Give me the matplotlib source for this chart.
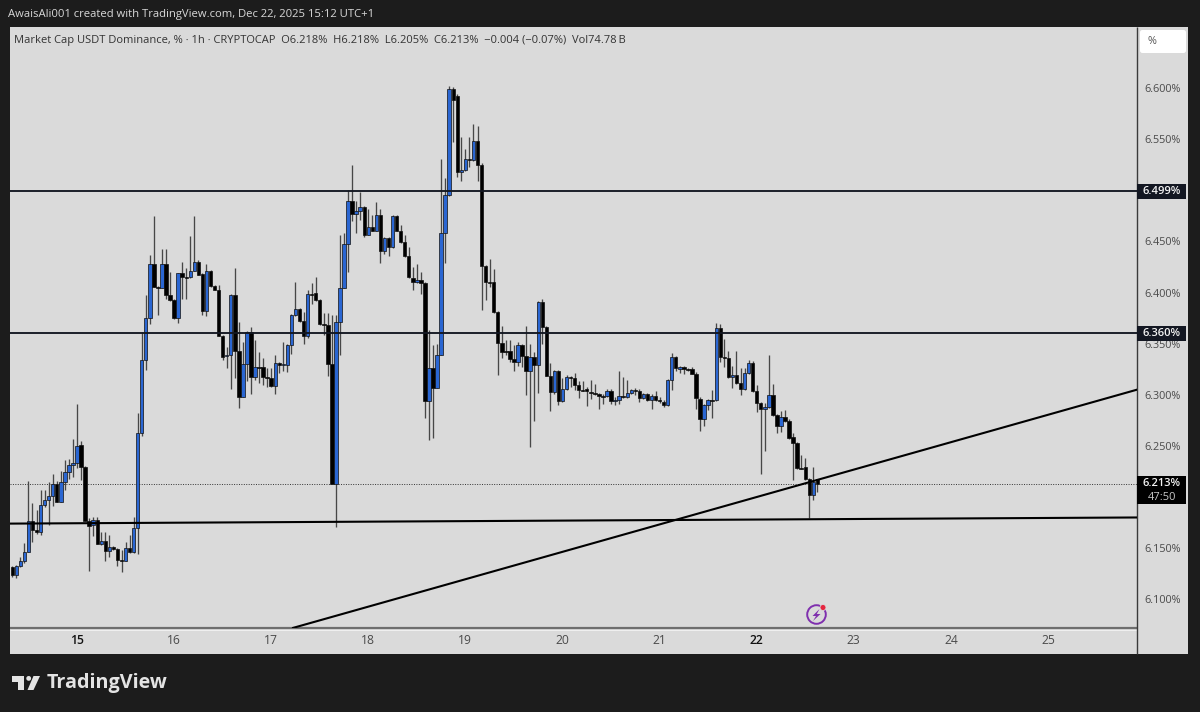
import numpy as np
import matplotlib
matplotlib.use("Agg")
import matplotlib.pyplot as plt
from matplotlib.patches import Rectangle, Polygon, Circle, FancyBboxPatch

opens = [
6.132,6.124,6.133,6.137,6.146,6.177,6.168,6.166,6.192,6.197,
6.201,6.213,6.195,6.215,6.224,6.231,6.233,6.251,6.229,6.177,
6.173,6.178,6.154,6.157,6.147,6.151,6.149,6.138,6.137,6.150,
6.146,6.170,6.263,6.334,6.375,6.428,6.405,6.404,6.428,6.398,
6.393,6.375,6.419,6.415,6.415,6.421,6.430,6.418,6.382,6.421,
6.406,6.402,6.357,6.338,6.339,6.398,6.343,6.298,6.330,6.361,
6.317,6.327,6.327,6.317,6.316,6.309,6.331,6.329,6.329,6.349,
6.378,6.384,6.372,6.357,6.399,6.400,6.393,6.369,6.368,6.330,
6.213,6.371,6.404,6.447,6.490,6.477,6.480,6.484,6.456,6.464,
6.460,6.476,6.441,6.453,6.445,6.475,6.460,6.449,6.436,6.414,
6.410,6.412,6.409,6.294,6.326,6.307,6.339,6.458,6.495,6.599,
6.592,6.518,6.520,6.531,6.530,6.548,6.525,6.426,6.410,6.410,
6.381,6.351,6.343,6.343,6.335,6.332,6.349,6.338,6.323,6.337,
6.329,6.391,6.366,6.318,6.303,6.323,6.294,6.306,6.317,6.316,
6.310,6.305,6.306,6.303,6.302,6.301,6.299,6.299,6.304,6.294,
6.295,6.299,6.298,6.302,6.305,6.304,6.297,6.301,6.295,6.299,
6.295,6.293,6.290,6.314,6.337,6.325,6.327,6.325,6.325,6.320,
6.296,6.276,6.290,6.295,6.295,6.365,6.337,6.336,6.317,6.319,
6.312,6.306,6.321,6.331,6.304,6.292,6.286,6.288,6.300,6.280,
6.269,6.278,6.274,6.259,6.253,6.228,6.229,6.218,6.202,6.218]

highs = [
6.133,6.134,6.141,6.155,6.216,6.194,6.187,6.207,6.207,6.215,
6.223,6.216,6.225,6.236,6.237,6.257,6.291,6.255,6.230,6.179,
6.180,6.180,6.166,6.166,6.163,6.152,6.150,6.148,6.156,6.163,
6.180,6.282,6.361,6.398,6.437,6.475,6.406,6.443,6.443,6.420,
6.394,6.419,6.430,6.424,6.455,6.475,6.432,6.419,6.428,6.422,
6.407,6.407,6.358,6.347,6.399,6.424,6.371,6.352,6.362,6.366,
6.354,6.342,6.336,6.326,6.326,6.339,6.332,6.352,6.350,6.379,
6.410,6.385,6.381,6.402,6.409,6.415,6.394,6.380,6.380,6.378,
6.378,6.456,6.458,6.500,6.525,6.490,6.498,6.485,6.482,6.476,
6.489,6.482,6.454,6.454,6.476,6.476,6.466,6.456,6.445,6.425,
6.428,6.420,6.410,6.363,6.349,6.350,6.531,6.512,6.602,6.601,
6.594,6.552,6.540,6.552,6.565,6.563,6.527,6.427,6.433,6.423,
6.382,6.367,6.354,6.354,6.349,6.352,6.350,6.367,6.350,6.342,
6.392,6.394,6.367,6.331,6.324,6.324,6.316,6.319,6.318,6.321,
6.313,6.313,6.308,6.314,6.311,6.302,6.301,6.306,6.306,6.298,
6.323,6.317,6.314,6.306,6.307,6.306,6.302,6.302,6.301,6.304,
6.298,6.295,6.315,6.341,6.338,6.328,6.328,6.326,6.327,6.322,
6.298,6.291,6.296,6.305,6.370,6.369,6.355,6.343,6.328,6.343,
6.326,6.326,6.334,6.333,6.310,6.293,6.292,6.339,6.311,6.281,
6.284,6.285,6.276,6.263,6.254,6.241,6.238,6.219,6.229,6.218]

lows = [
6.122,6.121,6.132,6.135,6.146,6.156,6.164,6.163,6.190,6.173,
6.191,6.195,6.195,6.207,6.218,6.220,6.228,6.217,6.177,6.128,
6.162,6.154,6.153,6.137,6.141,6.148,6.133,6.127,6.137,6.145,
6.145,6.144,6.260,6.324,6.369,6.405,6.378,6.404,6.394,6.392,
6.374,6.370,6.394,6.394,6.414,6.421,6.417,6.378,6.377,6.405,
6.402,6.357,6.334,6.326,6.306,6.316,6.287,6.298,6.313,6.301,
6.314,6.312,6.310,6.308,6.308,6.301,6.321,6.323,6.322,6.340,
6.377,6.371,6.350,6.356,6.389,6.392,6.368,6.358,6.318,6.213,
6.171,6.339,6.404,6.420,6.470,6.458,6.471,6.454,6.456,6.460,
6.460,6.429,6.438,6.436,6.444,6.460,6.448,6.435,6.414,6.402,
6.409,6.399,6.277,6.256,6.258,6.307,6.339,6.429,6.494,6.547,
6.513,6.509,6.519,6.523,6.529,6.509,6.383,6.393,6.405,6.380,
6.319,6.336,6.339,6.332,6.323,6.328,6.327,6.300,6.249,6.274,
6.302,6.350,6.318,6.284,6.301,6.290,6.293,6.305,6.308,6.305,
6.297,6.304,6.289,6.296,6.300,6.286,6.291,6.298,6.291,6.290,
6.291,6.297,6.297,6.301,6.300,6.293,6.296,6.294,6.286,6.294,
6.292,6.288,6.289,6.305,6.323,6.321,6.320,6.323,6.320,6.286,
6.265,6.269,6.285,6.277,6.294,6.332,6.327,6.316,6.307,6.311,
6.300,6.305,6.320,6.303,6.283,6.223,6.245,6.287,6.279,6.263,
6.264,6.273,6.257,6.217,6.227,6.227,6.217,6.179,6.197,6.205]

closes = [
6.124,6.133,6.137,6.146,6.177,6.168,6.166,6.192,6.197,6.201,
6.213,6.195,6.215,6.224,6.231,6.233,6.250,6.229,6.177,6.172,
6.178,6.154,6.157,6.147,6.151,6.149,6.138,6.137,6.150,6.146,
6.170,6.263,6.334,6.375,6.428,6.405,6.404,6.428,6.398,6.393,
6.375,6.419,6.415,6.414,6.421,6.430,6.417,6.382,6.421,6.406,
6.402,6.357,6.337,6.339,6.398,6.343,6.298,6.330,6.361,6.317,
6.327,6.326,6.317,6.316,6.309,6.331,6.329,6.330,6.349,6.378,
6.384,6.372,6.357,6.399,6.398,6.393,6.369,6.368,6.330,6.213,
6.371,6.404,6.447,6.490,6.477,6.480,6.484,6.456,6.464,6.460,
6.476,6.441,6.453,6.445,6.475,6.460,6.449,6.436,6.415,6.410,
6.412,6.409,6.294,6.326,6.307,6.339,6.458,6.495,6.599,6.588,
6.518,6.520,6.531,6.530,6.548,6.525,6.426,6.410,6.409,6.381,
6.351,6.342,6.342,6.335,6.332,6.349,6.338,6.323,6.337,6.329,
6.391,6.366,6.318,6.303,6.323,6.294,6.306,6.317,6.316,6.310,
6.305,6.304,6.304,6.302,6.301,6.299,6.298,6.304,6.294,6.295,
6.299,6.298,6.302,6.305,6.304,6.297,6.301,6.295,6.299,6.295,
6.294,6.290,6.314,6.337,6.326,6.327,6.325,6.324,6.320,6.297,
6.276,6.290,6.295,6.294,6.365,6.337,6.336,6.317,6.319,6.312,
6.306,6.321,6.331,6.304,6.292,6.286,6.288,6.300,6.280,6.269,
6.278,6.274,6.258,6.253,6.228,6.227,6.218,6.202,6.215,6.213]

first_hour = -16                 # hours relative to 00:00 on the 15th
day_labels = [15, 16, 17, 18, 19, 20, 21, 22, 23, 24, 25]
strong_days = [15, 22]
# the 6.200% label sits behind the last-price tag in the reference
price_ticks = [6.10, 6.15, 6.25, 6.30, 6.35, 6.40, 6.45, 6.50, 6.55, 6.60]
levels = [6.499, 6.360]
last_price = 6.213
floor_line_hours, floor_line_prices = [-16.56, 262.0], [6.174, 6.180]
trend_line_hours, trend_line_prices = [53.4, 262.0], [6.072, 6.305]

FONT = "Open Sans"
DARK = "#1c1c1c"
PANE = "#dadada"
UP = "#2a66d2"
DOWN = "#000000"
INK = "#131722"

plt.rcParams["font.family"] = FONT
W, H = 1200, 712
fig = plt.figure(figsize=(W / 100, H / 100), dpi=100, facecolor=DARK)

# backdrop in pixel coordinates
back = fig.add_axes([0, 0, 1, 1], zorder=0)
back.set_xlim(0, W); back.set_ylim(H, 0); back.axis("off")
back.add_patch(Rectangle((10, 27), 1178, 627, fc=PANE, ec="none"))
back.plot([10, 1137], [628, 628], color="#6e6e6e", lw=1.6, solid_capstyle="butt")
back.plot([10, 1137], [630, 630], color="#f0f0f0", lw=0.7, solid_capstyle="butt")
back.plot([1137, 1137], [27, 654], color="#3a3a3a", lw=1.0, solid_capstyle="butt")

# price pane
ax = fig.add_axes([10 / W, 1 - 628 / H, 1127 / W, 601 / H], zorder=1)
ax.patch.set_alpha(0)
ax.set_xlim(-16.56, 262.0)
ax.set_ylim(6.0719, 6.6597)
for s in ax.spines.values():
    s.set_visible(False)

x = np.arange(len(opens)) + first_hour
o, h, l, c = map(np.array, (opens, highs, lows, closes))
up = c >= o
colors = [UP if u else DOWN for u in up]
ax.vlines(x, l, h, color="#474747", lw=0.95, zorder=2)
ax.bar(x, np.maximum(np.abs(c - o), 0.0006), bottom=np.minimum(o, c), width=0.85,
       color=colors, edgecolor="#101010", linewidth=0.5, zorder=3)

for lv in levels:
    ax.axhline(lv, color=INK, lw=1.35, zorder=4)
ax.axhline(last_price, color="#333333", lw=0.7, ls=(0, (1, 1.5)), zorder=1)
ax.plot(floor_line_hours, floor_line_prices, color="#000000", lw=1.5, zorder=4)
ax.plot(trend_line_hours, trend_line_prices, color="#000000", lw=1.5, zorder=4)

ax.yaxis.tick_right()
ax.set_yticks(price_ticks)
ax.set_yticklabels([f"{p:.3f}%" for p in price_ticks])
ax.tick_params(axis="y", length=0, pad=5.2, labelsize=7.8, labelcolor="#4a4a4a")
ax.set_xticks([(d - 15) * 24 for d in day_labels])
ax.set_xticklabels([str(d) for d in day_labels])
ax.tick_params(axis="x", length=0, pad=4.5, labelsize=8.7, labelcolor="#4a4a4a")
for t, d in zip(ax.get_xticklabels(), day_labels):
    if d in strong_days:
        t.set_color("#111111")
        t.set_fontweight("semibold")

# overlay: labels, tags, logos
top = fig.add_axes([0, 0, 1, 1], zorder=2)
top.set_xlim(0, W); top.set_ylim(H, 0); top.axis("off")
top.text(8, 15, "AwaisAli001 created with TradingView.com, Dec 22, 2025 15:12 UTC+1",
         color="#d8d8d8", fontsize=8.07, va="center", ha="left")
top.text(14, 41,
         "Market Cap USDT Dominance, % \u00b7 1h \u00b7 CRYPTOCAP  O6.218%  H6.218%  L6.205%  C6.213%  \u22120.004 (\u22120.07%)  Vol74.78\u2009B",
         color="#333333", fontsize=7.98, va="center", ha="left")

top.add_patch(FancyBboxPatch((1142, 32), 42, 19, boxstyle="round,pad=2,rounding_size=2.5",
                             fc="#ffffff", ec="none"))
top.text(1152, 42, "%", color="#555555", fontsize=7.8, ha="center", va="center")

for lv in levels:
    y_px = 88 + (6.6 - lv) * 1022
    top.add_patch(Rectangle((1137, y_px - 7.5), 49, 15, fc=INK, ec="none"))
    top.text(1162, y_px, f"{lv:.3f}%", color="#f2f2f2", fontsize=8.0,
             fontweight="semibold", ha="center", va="center")
top.add_patch(Rectangle((1137, 476), 49, 28, fc="#000000", ec="none"))
top.text(1162, 483.5, f"{last_price:.3f}%", color="#f2f2f2", fontsize=8.0,
         fontweight="semibold", ha="center", va="center")
top.text(1162, 498, "47:50", color="#c8c8c8", fontsize=8.0, ha="center", va="center")

# bolt icon
PURPLE = "#7f2fae"
top.add_patch(Circle((816.5, 614.5), 9.3, fc="none", ec=PURPLE, lw=1.4))
top.add_patch(Polygon([(819.5, 609), (812.5, 616), (816, 616), (813, 621), (820.5, 614), (816.8, 614)],
                      closed=True, fc=PURPLE, ec="none"))
top.add_patch(Circle((823, 607.5), 3.0, fc="#e5263f", ec=PANE, lw=0.6))

# TradingView mark and word
logo = "#e4e4e4"
top.add_patch(Polygon([(12, 676), (24, 676), (24, 690), (18, 690), (18, 682), (12, 682)], closed=True, fc=logo, ec="none"))
top.add_patch(Circle((28.7, 678.4), 2.4, fc=logo, ec="none"))
top.add_patch(Polygon([(27.5, 690), (33.5, 690), (40, 676), (33.5, 676)], closed=True, fc=logo, ec="none"))
top.text(47, 683, "TradingView", color=logo, fontsize=14.2, fontweight="bold", ha="left", va="center")

fig.savefig("out.png", dpi=100, facecolor=DARK)
